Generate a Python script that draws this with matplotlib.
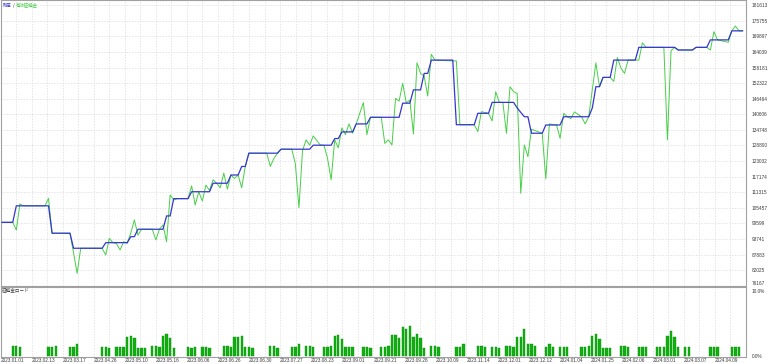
import matplotlib
matplotlib.use("Agg")
import matplotlib.pyplot as plt

plt.rcParams['font.family'] = ['Noto Sans CJK JP', 'DejaVu Sans']

# (deal number, value)
balance = [
    (0, 100000), (3, 100000), (4, 106200), (13, 106200), (14, 95900), (19, 95900),
    (20, 90250), (28, 90250), (29, 92350), (35, 92350), (36, 94600), (37, 94600),
    (38, 97400), (45, 97400), (46, 102400), (47, 102400), (48, 108900), (52, 108900),
    (53, 111500), (58, 111500), (59, 114700), (63, 114700), (64, 117800), (66, 117800),
    (67, 121000), (68, 121000), (69, 126000), (77, 126000), (78, 127500), (86, 127500),
    (87, 129000), (92, 129000), (93, 131500), (94, 131500), (95, 134000), (98, 134000),
    (99, 137000), (102, 137000), (103, 139500), (111, 139500), (112, 144800), (114, 144800),
    (115, 149800), (117, 149800), (118, 156000), (119, 156000), (120, 161000), (126, 161000),
    (127, 136700), (132, 136700), (133, 141000), (136, 141000), (137, 145100), (143, 145100),
    (144, 143000), (146, 139700), (147, 139700), (148, 133500), (151, 133500), (152, 136600),
    (156, 136600), (157, 139700), (164, 139700), (165, 143000), (166, 151000), (167, 151000),
    (168, 154500), (170, 154500), (171, 161000), (177, 161000), (178, 165800), (188, 165800),
    (189, 164800), (193, 164800), (194, 165800), (197, 165800), (198, 168600), (203, 168600),
    (204, 172000), (207, 172000),
]

equity = [
    (0, 100000), (3, 100000), (4, 97100), (5, 106900), (6, 106200), (12, 106200),
    (13, 109000), (14, 95900), (19, 95900), (20, 88500), (21, 80800), (22, 90250),
    (28, 90250), (29, 87700), (30, 94000), (31, 92350), (32, 92000), (33, 89600),
    (34, 92700), (35, 92100), (36, 96000), (37, 100900), (38, 95200), (39, 97400),
    (42, 97400), (43, 93400), (44, 97400), (45, 99000), (46, 92700), (47, 110300),
    (48, 108400), (49, 108900), (52, 108900), (53, 113700), (54, 106500), (55, 111500),
    (56, 108000), (57, 114000), (58, 112000), (59, 116000), (60, 114700), (61, 113000),
    (62, 118500), (63, 112500), (64, 117800), (65, 116500), (66, 117800), (67, 113000),
    (68, 121000), (69, 126000), (74, 126000), (75, 121000), (76, 124000), (77, 126000),
    (78, 127500), (81, 127500), (82, 122000), (83, 105500), (84, 127000), (85, 131000),
    (86, 129000), (87, 132500), (89, 129000), (90, 129000), (91, 124000), (92, 116000),
    (93, 131000), (94, 128000), (95, 135500), (96, 133000), (97, 137000), (98, 133500),
    (99, 137000), (100, 141000), (101, 145000), (102, 133000), (103, 139500), (106, 139500),
    (107, 129700), (108, 131000), (109, 129100), (110, 146600), (111, 145600), (112, 152300),
    (113, 144900), (114, 146000), (115, 133200), (116, 160000), (117, 156000), (118, 155000),
    (119, 147500), (120, 163200), (121, 161000), (126, 160700), (127, 160700), (128, 136700),
    (132, 136700), (133, 134100), (134, 141600), (136, 141000), (137, 138100), (138, 149100),
    (139, 145100), (140, 145100), (141, 133500), (142, 151000), (143, 149100), (144, 148500),
    (145, 110900), (146, 129100), (147, 124700), (148, 135000), (151, 133500), (152, 116300),
    (153, 137000), (155, 136600), (156, 131600), (157, 141000), (158, 139700), (159, 139000),
    (160, 141500), (162, 139700), (163, 137000), (164, 139700), (165, 150000), (166, 160000),
    (167, 151000), (168, 154500), (170, 154500), (171, 153000), (172, 162000), (173, 158000),
    (174, 156000), (175, 161000), (178, 161000), (179, 167500), (180, 165800), (185, 165800),
    (186, 131000), (187, 164500), (188, 165800), (189, 164800), (193, 164800), (194, 165800),
    (197, 165800), (198, 164800), (199, 171700), (200, 168600), (203, 167700), (204, 172000),
    (205, 173800), (206, 172000), (207, 172000),
]

# deposit load, % per deal
load = [
    (3, 1.55), (4, 1.6), (5, 1.42), (13, 1.42), (14, 1.42), (15, 1.6),
    (19, 1.42), (20, 1.42), (21, 1.75), (28, 1.42), (29, 1.42), (30, 1.3),
    (32, 1.42), (33, 1.42), (34, 1.42), (35, 2.9), (36, 2.95), (37, 2.66),
    (38, 1.3), (39, 1.3), (40, 1.3), (42, 1.5), (43, 1.5), (44, 1.42),
    (45, 3.0), (46, 3.25), (47, 2.66), (48, 1.3), (52, 1.42), (53, 1.3),
    (54, 1.45), (56, 1.42), (57, 1.42), (58, 1.27), (62, 1.5), (63, 1.5),
    (64, 1.42), (65, 2.9), (66, 2.9), (67, 3.0), (68, 1.42), (69, 1.42),
    (70, 1.3), (75, 1.52), (76, 1.6), (77, 1.3), (81, 1.42), (82, 1.42),
    (83, 1.77), (85, 1.52), (86, 1.52), (87, 1.42), (90, 1.42), (91, 1.42),
    (92, 1.55), (93, 3.05), (94, 3.1), (95, 2.56), (96, 1.42), (97, 1.42),
    (98, 1.42), (101, 1.42), (102, 1.42), (103, 1.27), (106, 1.42), (107, 1.42),
    (108, 1.52), (109, 3.15), (110, 3.15), (111, 2.76), (112, 4.29), (113, 4.09),
    (114, 4.44), (115, 2.9), (116, 3.3), (117, 2.66), (118, 1.22), (120, 1.52),
    (121, 1.52), (122, 1.42), (127, 1.42), (128, 1.42), (129, 1.77), (133, 1.52),
    (134, 1.52), (135, 1.42), (137, 1.42), (138, 1.42), (139, 1.27), (141, 1.52),
    (142, 1.6), (143, 1.42), (144, 2.9), (145, 2.9), (146, 4.0), (147, 1.77),
    (148, 1.77), (149, 1.6), (152, 1.42), (153, 1.77), (154, 1.42), (156, 1.42),
    (157, 1.42), (158, 1.42), (162, 1.42), (163, 1.42), (164, 1.52), (165, 3.05),
    (166, 3.25), (167, 2.6), (168, 1.27), (169, 1.27), (170, 1.27), (173, 1.6),
    (174, 1.6), (175, 1.42), (178, 1.42), (179, 1.42), (180, 1.42), (183, 1.42),
    (184, 1.42), (185, 1.42), (186, 3.05), (187, 3.8), (188, 2.9), (189, 1.42),
    (191, 1.42), (192, 1.42), (198, 1.42), (199, 1.42), (200, 1.42), (204, 1.42),
    (205, 1.42), (206, 1.42),
]

y_ticks = [76167, 82025, 87883, 93741, 99599, 105457, 111315, 117174, 123032,
           128890, 134748, 140606, 146464, 152322, 158181, 164039, 169897,
           175755, 181613]

date_labels = [
    "2023.01.01", "2023.02.13", "2023.03.17", "2023.04.26", "2023.05.10", "2023.05.16",
    "2023.06.06", "2023.06.26", "2023.06.30", "2023.07.27", "2023.08.23", "2023.09.01",
    "2023.09.21", "2023.09.28", "2023.10.09", "2023.11.14", "2023.12.01", "2023.12.12",
    "2024.01.04", "2024.01.25", "2024.02.06", "2024.03.01", "2024.03.07", "2024.04.09",
]

BLUE = "#3535d0"
GREEN = "#46cf46"
BAR = "#10b010"
GRID = "#d9d9d9"
FRAME = "#a0a0a0"
TXT = "#3a3a3a"
NUM_FONT = "Liberation Sans"

W, H = 768, 364
fig = plt.figure(figsize=(W / 100, H / 100), dpi=100)
ax = fig.add_axes([0.5 / W, 1 - 285.7 / H, 745.5 / W, 285.7 / H])
axl = fig.add_axes([0.5 / W, 1 - 357 / H, 745.5 / W, 70 / H], sharex=ax)

bx, by = zip(*balance)
ex, ey = zip(*equity)
lx, ly = zip(*load)

ax.plot(ex, ey, color=GREEN, lw=0.7, zorder=3)
ax.plot(bx, by, color=BLUE, lw=0.9, zorder=4)
axl.bar(lx, ly, width=0.65, color=BAR, edgecolor="#0b900b", linewidth=0.3, zorder=3)

x0, x1 = -0.42, 207.96
ax.set_xlim(x0, x1)
ax.set_ylim(76167, 183600)
axl.set_ylim(-0.1, 10.25)

# vertical grid: 48 equal steps, date label on every second one
major = [x0 + (x1 - x0) * i / 24 for i in range(24)]
minor = [x0 + (x1 - x0) * (i + 0.5) / 24 for i in range(24)]
for a in (ax, axl):
    a.set_xticks(major)
    a.set_xticks(minor, minor=True)
    a.grid(True, which="both", axis="x", color=GRID, lw=0.5, ls=(0, (2, 2)))
    a.set_facecolor("white")
    for s in a.spines.values():
        s.set_color(FRAME)
        s.set_linewidth(0.8)
    a.tick_params(which="both", length=0)
    a.set_axisbelow(True)

ax.grid(True, axis="y", color=GRID, lw=0.5, ls=(0, (2, 2)))
ax.set_yticks(y_ticks)
ax.set_yticklabels([str(v) for v in y_ticks], fontsize=3.4, color=TXT, family=NUM_FONT)
ax.yaxis.tick_right()
ax.tick_params(axis="y", pad=4)
ax.tick_params(axis="x", labelbottom=False)
ax.get_yticklabels()[0].set_va("bottom")

axl.set_yticks([0, 10])
axl.set_yticklabels(["0.0%", "10.0%"], fontsize=3.4, color=TXT, family=NUM_FONT)
axl.yaxis.tick_right()
axl.tick_params(axis="y", pad=4)
axl.get_yticklabels()[1].set_va("top")
axl.set_xticklabels(date_labels, fontsize=3.4, color=TXT, family=NUM_FONT, ha="left")
axl.tick_params(axis="x", pad=1)

fig.text(3 / W, 1 - 5 / H, "残高", color=BLUE, fontsize=3.2, va="center")
fig.text(12.5 / W, 1 - 5 / H, "/", color=TXT, fontsize=3.2, va="center")
fig.text(16 / W, 1 - 5 / H, "有効証拠金", color=GREEN, fontsize=3.2, va="center")
fig.text(2 / W, 1 - 290 / H, "証拠金ロード", color=TXT, fontsize=3.3, va="center")

fig.savefig("out.png", dpi=100, facecolor="white")
